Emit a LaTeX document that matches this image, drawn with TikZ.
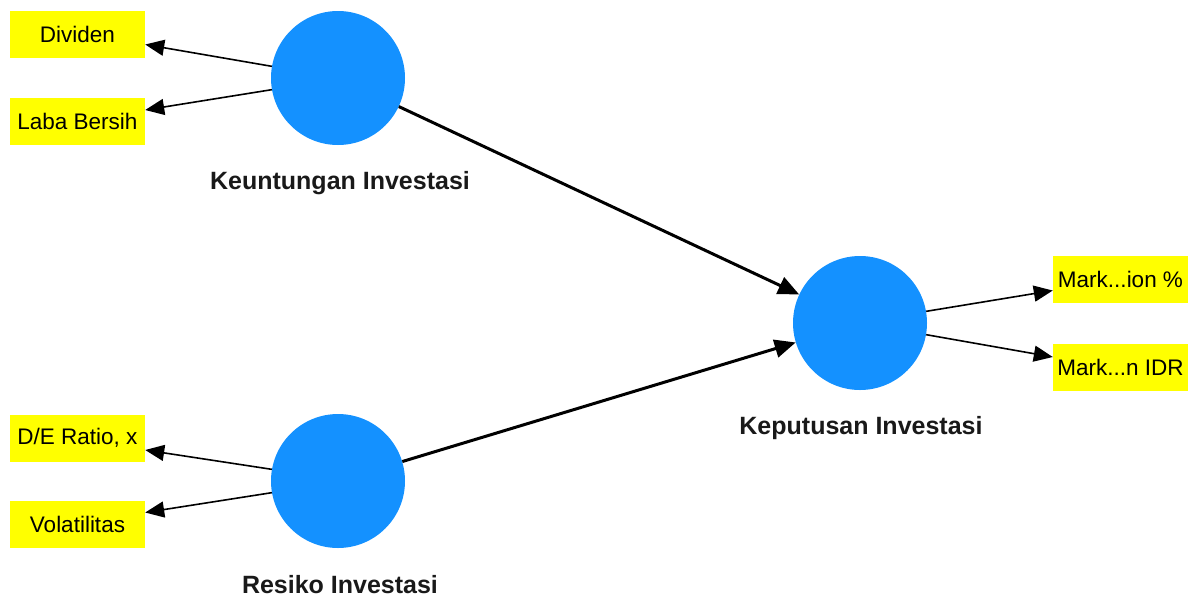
\documentclass[tikz,border=0pt]{standalone}
\usepackage{fontspec}
\setmainfont{Liberation Sans}
\usetikzlibrary{arrows.meta}
\definecolor{lvblue}{RGB}{20,145,255}
\definecolor{ind}{RGB}{255,255,0}
\definecolor{lbl}{RGB}{25,25,25}
\tikzset{
  lv/.style={circle, fill=lvblue, minimum size=134pt, inner sep=0pt},
  indbox/.style={rectangle, fill=ind, minimum width=135pt, minimum height=47pt, inner sep=0pt, font=\fontsize{22.5}{26}\selectfont},
  lvlabel/.style={font=\fontsize{25}{29}\selectfont\bfseries, text=lbl},
  thin arrow/.style={line width=1.6pt, -{Triangle[length=19pt,width=16pt]}},
  thick arrow/.style={line width=3pt, -{Triangle[length=21pt,width=18pt]}}
}
\begin{document}
\begin{tikzpicture}[x=1pt,y=-1pt]
\useasboundingbox (0,0) rectangle (1192,598);
% latent variables
\node[lv] (K) at (338,78) {};
\node[lv] (R) at (338,481) {};
\node[lv] (P) at (860,323) {};
\node[lvlabel] (Kl) at (340,183) {Keuntungan Investasi};
\node[lvlabel] (Rl) at (340,585) {Resiko Investasi};
\node[lvlabel] (Pl) at (861,428) {Keputusan Investasi};
% indicators
\node[indbox] (div) at (77.5,34.5) {Dividen};
\node[indbox] (lab) at (77.5,121) {Laba Bersih};
\node[indbox] (de) at (77.5,438) {D/E Ratio, x};
\node[indbox] (vol) at (77.5,524.5) {Volatilitas};
\node[indbox] (m1) at (1120.5,279.5) {Mark...ion \%};
\node[indbox] (m2) at (1120.5,367) {Mark...n IDR};
% outer loadings
\draw[thin arrow] (K.170) -- ([yshift=-10pt]div.east);
\draw[thin arrow] (K.190) -- ([yshift=11pt]lab.east);
\draw[thin arrow] (R.170) -- ([yshift=-12pt]de.east);
\draw[thin arrow] (R.190) -- ([yshift=12pt]vol.east);
\draw[thin arrow] (P.10) -- ([yshift=-11pt]m1.west);
\draw[thin arrow] (P.-10) -- ([yshift=10pt]m2.west);
% paths
\draw[thick arrow] (K) -- (P);
\draw[thick arrow] (R) -- (P);
\end{tikzpicture}
\end{document}
